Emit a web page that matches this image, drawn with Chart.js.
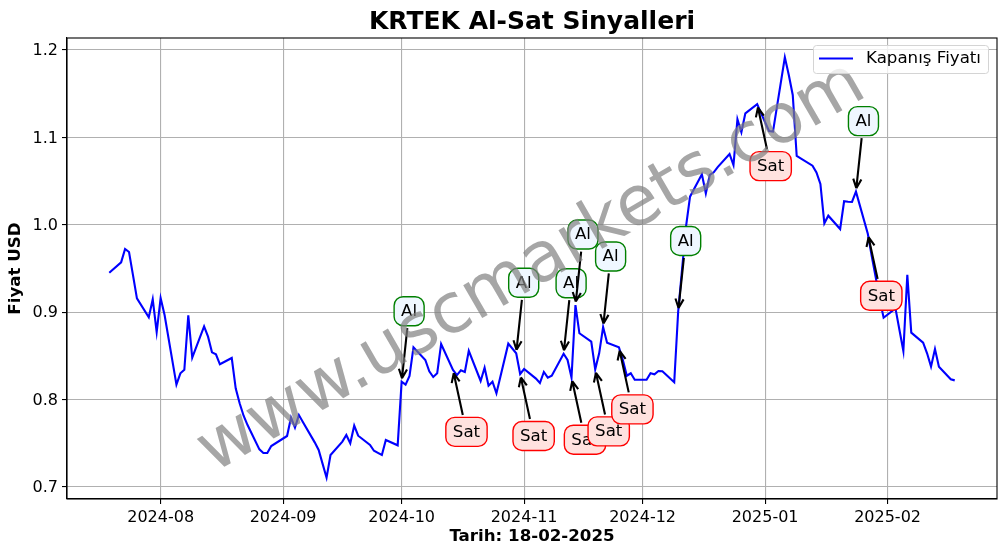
<!DOCTYPE html>
<html>
<head>
<meta charset="utf-8">
<style>
    html, body { margin: 0; background: #fff; }
    canvas { display: block; }
</style>
<script src="https://cdn.jsdelivr.net/npm/chart.js@4"></script>
</head>
<body>
<canvas id="grafica" width="1006" height="554"></canvas>
<script>
// Fechas y precios de cierre
const closeDates = [
    "2024-07-19", "2024-07-22", "2024-07-23", "2024-07-24", "2024-07-25", "2024-07-26",
    "2024-07-29", "2024-07-30", "2024-07-31", "2024-08-01", "2024-08-02",
    "2024-08-05", "2024-08-06", "2024-08-07", "2024-08-08", "2024-08-09",
    "2024-08-12", "2024-08-13", "2024-08-14", "2024-08-15", "2024-08-16",
    "2024-08-19", "2024-08-20", "2024-08-21", "2024-08-22", "2024-08-23",
    "2024-08-26", "2024-08-27", "2024-08-28", "2024-08-29",
    "2024-09-02", "2024-09-03", "2024-09-04", "2024-09-05", "2024-09-06",
    "2024-09-09", "2024-09-10", "2024-09-11", "2024-09-12", "2024-09-13",
    "2024-09-16", "2024-09-17", "2024-09-18", "2024-09-19", "2024-09-20",
    "2024-09-23", "2024-09-24", "2024-09-25", "2024-09-26", "2024-09-27",
    "2024-09-30", "2024-10-01", "2024-10-02", "2024-10-03", "2024-10-04",
    "2024-10-07", "2024-10-08", "2024-10-09", "2024-10-10", "2024-10-11",
    "2024-10-14", "2024-10-15", "2024-10-16", "2024-10-17", "2024-10-18",
    "2024-10-21", "2024-10-22", "2024-10-23", "2024-10-24", "2024-10-25",
    "2024-10-28", "2024-10-30", "2024-10-31", "2024-11-01",
    "2024-11-04", "2024-11-05", "2024-11-06", "2024-11-07", "2024-11-08",
    "2024-11-11", "2024-11-12", "2024-11-13", "2024-11-14", "2024-11-15",
    "2024-11-18", "2024-11-19", "2024-11-20", "2024-11-21", "2024-11-22",
    "2024-11-25", "2024-11-26", "2024-11-27", "2024-11-28", "2024-11-29",
    "2024-12-02", "2024-12-03", "2024-12-04", "2024-12-05", "2024-12-06",
    "2024-12-09", "2024-12-10", "2024-12-11", "2024-12-12", "2024-12-13",
    "2024-12-16", "2024-12-17", "2024-12-18", "2024-12-19", "2024-12-20",
    "2024-12-23", "2024-12-24", "2024-12-25", "2024-12-26", "2024-12-27",
    "2024-12-30", "2024-12-31", "2025-01-02", "2025-01-03",
    "2025-01-06", "2025-01-07", "2025-01-08", "2025-01-09", "2025-01-10",
    "2025-01-13", "2025-01-14", "2025-01-15", "2025-01-16", "2025-01-17",
    "2025-01-20", "2025-01-21", "2025-01-22", "2025-01-23", "2025-01-24",
    "2025-01-27", "2025-01-28", "2025-01-29", "2025-01-30", "2025-01-31",
    "2025-02-03", "2025-02-04", "2025-02-05", "2025-02-06", "2025-02-07",
    "2025-02-10", "2025-02-11", "2025-02-12", "2025-02-13", "2025-02-14",
    "2025-02-17", "2025-02-18"
];
const closePrices = [
    0.9452, 0.9571, 0.9723, 0.9689, 0.9425, 0.9159,
    0.8942, 0.9147, 0.8773, 0.9162, 0.8968,
    0.8171, 0.8301, 0.8342, 0.8964, 0.8479,
    0.8838, 0.8720, 0.8541, 0.8518, 0.8404,
    0.8476, 0.8129, 0.7958, 0.7816, 0.7709,
    0.7431, 0.7389, 0.7389, 0.7469,
    0.7584, 0.7793, 0.7679, 0.7824, 0.7745,
    0.7511, 0.7424, 0.7265, 0.7107, 0.7366,
    0.7520, 0.7595, 0.7500, 0.7702, 0.7587,
    0.7481, 0.7415, 0.7390, 0.7366, 0.7538,
    0.7477, 0.8205, 0.8171, 0.8270, 0.8598,
    0.8453, 0.8324, 0.8259, 0.8301, 0.8636,
    0.8340, 0.8281, 0.8335, 0.8316, 0.8559,
    0.8213, 0.8365, 0.8159, 0.8205, 0.8072,
    0.8640, 0.8530, 0.8293, 0.8350,
    0.8240, 0.8190, 0.8316, 0.8251, 0.8273,
    0.8525, 0.8453, 0.8251, 0.9082, 0.8759,
    0.8663, 0.8346, 0.8530, 0.8831, 0.8651,
    0.8598, 0.8453, 0.8273, 0.8301, 0.8228,
    0.8228, 0.8301, 0.8290, 0.8327, 0.8324,
    0.8198, 0.9008, 0.9500, 0.9986, 1.0322,
    1.0578, 1.0360, 1.0570, 1.0600, 1.0660,
    1.0810, 1.0684, 1.1207, 1.1058, 1.1275,
    1.1380, 1.1275, 1.1073, 1.1066,
    1.1916, 1.1714, 1.1485, 1.0787, 1.0760,
    1.0676, 1.0600, 1.0467, 1.0017, 1.0104,
    0.9952, 1.0269, 1.0263, 1.0261, 1.0379,
    0.9897, 0.9640, 0.9400, 0.9150, 0.8937,
    0.9044, 0.8800, 0.8556, 0.9429, 0.8766,
    0.8651, 0.8530, 0.8377, 0.8579, 0.8377,
    0.8232, 0.8220
];

// Señales de compra y venta
const buyDates = ["2024-10-01", "2024-10-30", "2024-11-11", "2024-11-14", "2024-11-21", "2024-12-10", "2025-01-24"];
const sellDates = ["2024-10-14", "2024-10-31", "2024-11-13", "2024-11-19", "2024-11-25", "2024-12-30", "2025-01-27"];

// Etiquetas de los ejes
const monthTicks = ["2024-08", "2024-09", "2024-10", "2024-11", "2024-12", "2025-01", "2025-02"];
const priceTicks = [0.7, 0.8, 0.9, 1.0, 1.1, 1.2];

const FONT = '"DejaVu Sans"';
const toMs = (text) => Date.parse(text.length === 7 ? text + "-01T00:00:00Z" : text + "T00:00:00Z");

const firstDay = toMs(closeDates[0]);
const lastDay = toMs(closeDates[closeDates.length - 1]);
const xMargin = (lastDay - firstDay) * 0.05;

// Dibuja una etiqueta Al/Sat con su flecha hacia el punto
function drawSignal(chart, date, text, style) {
    const ctx = chart.ctx;
    const price = closePrices[closeDates.indexOf(date)];
    const px = chart.scales.x.getPixelForValue(toMs(date));
    const py = chart.scales.y.getPixelForValue(price);
    const cx = px + style.dx;
    const cy = py + style.dy;

    ctx.font = `16.67px ${FONT}`;
    const w = ctx.measureText(text).width + 14;
    const h = 29;

    // Flecha: sale del borde de la caja y termina antes del punto
    const len = Math.hypot(px - cx, py - cy);
    const ux = (px - cx) / len;
    const uy = (py - cy) / len;
    const out = Math.min((w / 2) / Math.max(Math.abs(ux), 0.001), (h / 2) / Math.abs(uy)) + 2.5;
    const tipX = px - ux * 3.5;
    const tipY = py - uy * 3.5;

    ctx.strokeStyle = "#000";
    ctx.lineWidth = 2.1;
    ctx.lineCap = "butt";
    ctx.lineJoin = "miter";
    ctx.beginPath();
    ctx.moveTo(cx + ux * out, cy + uy * out);
    ctx.lineTo(tipX, tipY);
    const angle = Math.atan2(uy, ux);
    for (const side of [-1, 1]) {
        ctx.moveTo(tipX, tipY);
        ctx.lineTo(tipX - 10 * Math.cos(angle + side * 0.42), tipY - 10 * Math.sin(angle + side * 0.42));
    }
    ctx.stroke();

    // Caja redondeada con el texto
    ctx.beginPath();
    ctx.roundRect(cx - w / 2, cy - h / 2, w, h, 9);
    ctx.fillStyle = style.fill;
    ctx.fill();
    ctx.strokeStyle = style.edge;
    ctx.lineWidth = 1.4;
    ctx.stroke();

    ctx.fillStyle = "#000";
    ctx.textAlign = "center";
    ctx.textBaseline = "middle";
    ctx.fillText(text, cx, cy + 0.5);
}

// Plugin para las señales, la marca de agua y la leyenda
const overlayPlugin = {
    id: "overlayPlugin",

    afterDatasetsDraw(chart) {
        const ctx = chart.ctx;
        const area = chart.chartArea;

        ctx.save();

        const buyStyle = { dx: 7.5, dy: -70.5, fill: "#eff7ff", edge: "#008000" };
        const sellStyle = { dx: 13.5, dy: 62, fill: "#ffe2df", edge: "#ff0000" };
        buyDates.forEach((date) => drawSignal(chart, date, "Al", buyStyle));
        sellDates.forEach((date) => drawSignal(chart, date, "Sat", sellStyle));

        // Marca de agua
        ctx.save();
        ctx.translate((area.left + area.right) / 2, (area.top + area.bottom) / 2);
        ctx.rotate(-30 * Math.PI / 180);
        ctx.font = `69.4px ${FONT}`;
        ctx.fillStyle = "rgba(128,128,128,0.7)";
        ctx.textAlign = "center";
        ctx.textBaseline = "middle";
        ctx.fillText("www.uscmarkets.com", 0, 0);
        ctx.restore();

        // Marco del área de la gráfica
        ctx.strokeStyle = "#000";
        ctx.lineWidth = 1.1;
        ctx.strokeRect(area.left, area.top, area.right - area.left, area.bottom - area.top);

        // Leyenda
        const series = chart.data.datasets[0];
        ctx.beginPath();
        ctx.roundRect(813.5, 45.5, 175, 28, 3);
        ctx.fillStyle = "rgba(255,255,255,0.8)";
        ctx.fill();
        ctx.strokeStyle = "#d4d4d4";
        ctx.lineWidth = 1;
        ctx.stroke();

        ctx.beginPath();
        ctx.moveTo(819, 58.5);
        ctx.lineTo(853, 58.5);
        ctx.strokeStyle = series.borderColor;
        ctx.lineWidth = series.borderWidth;
        ctx.stroke();

        ctx.font = `16.67px ${FONT}`;
        ctx.fillStyle = "#000";
        ctx.textAlign = "left";
        ctx.textBaseline = "middle";
        ctx.fillText(series.label, 866, 58.5);
        ctx.restore();
    }
};

new Chart(document.getElementById("grafica"), {
    type: "line",

    data: {
        datasets: [{
            label: "Kapanış Fiyatı",
            data: closeDates.map((date, i) => ({ x: toMs(date), y: closePrices[i] })),
            borderColor: "#0000ff",
            borderWidth: 2.1,
            pointRadius: 0,
            tension: 0
        }]
    },

    options: {
        responsive: false,
        animation: false,
        layout: { padding: { right: 9 } },

        plugins: {
            legend: { display: false },
            tooltip: { enabled: false },
            title: {
                display: true,
                fullSize: false,
                text: "KRTEK Al-Sat Sinyalleri",
                color: "#000",
                font: { family: FONT, size: 25, weight: "bold", lineHeight: 1.2 },
                padding: { top: 7, bottom: 1 }
            }
        },

        scales: {
            x: {
                type: "linear",
                min: firstDay - xMargin,
                max: lastDay + xMargin,
                afterFit(scale) { scale.height = 55; },
                afterBuildTicks(scale) {
                    scale.ticks = monthTicks.map((month) => ({ value: toMs(month) }));
                },
                ticks: {
                    autoSkip: false,
                    maxRotation: 0,
                    color: "#000",
                    padding: 4,
                    font: { family: FONT, size: 16 },
                    callback: (value) => new Date(value).toISOString().slice(0, 7)
                },
                grid: { color: "#b0b0b0", lineWidth: 1.1, tickColor: "#000", tickLength: 5 },
                border: { color: "#000", width: 1.1 },
                title: {
                    display: true,
                    text: "Tarih: 18-02-2025",
                    color: "#000",
                    font: { family: FONT, size: 16.67, weight: "bold", lineHeight: 1.2 },
                    padding: { top: 0, bottom: 7 }
                }
            },
            y: {
                min: 0.6863,
                max: 1.2137,
                afterFit(scale) { scale.width = 67; },
                afterBuildTicks(scale) {
                    scale.ticks = priceTicks.map((value) => ({ value }));
                },
                ticks: {
                    color: "#000",
                    padding: 4,
                    labelOffset: 1,
                    font: { family: FONT, size: 16 },
                    callback: (value) => value.toFixed(1)
                },
                grid: { color: "#b0b0b0", lineWidth: 1.1, tickColor: "#000", tickLength: 5 },
                border: { color: "#000", width: 1.1 },
                title: {
                    display: true,
                    text: "Fiyat USD",
                    color: "#000",
                    font: { family: FONT, size: 16.67, weight: "bold", lineHeight: 1.2 },
                    padding: { top: 6, bottom: 0 }
                }
            }
        }
    },

    plugins: [overlayPlugin]
});
</script>
</body>
</html>
